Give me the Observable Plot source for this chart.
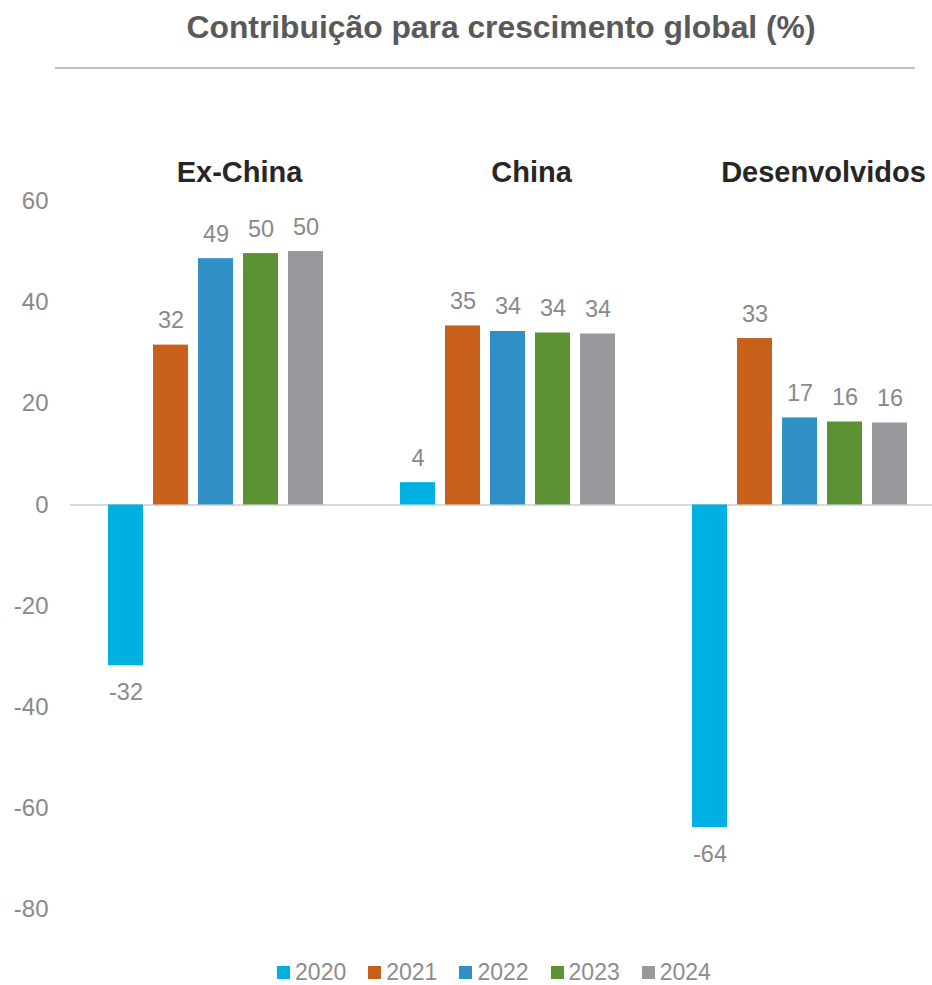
<!DOCTYPE html>
<html>
<head>
<meta charset="utf-8">
<script src="https://cdn.jsdelivr.net/npm/d3@7"></script>
<script src="https://cdn.jsdelivr.net/npm/@observablehq/plot@0.6"></script>
<style>
  html, body { margin: 0; padding: 0; background: #fff; overflow: hidden; }
  body { width: 932px; font-family: "Liberation Sans", Arial, sans-serif; }
  #title { text-align: center; font-weight: bold; font-size: 31.8px; line-height: 36px; padding-top: 9px; color: #595959; padding-left: 138px; padding-right: 68px; white-space: nowrap; }
  #rule { margin: 22px 0 31px 55px; width: 860px; height: 2px; background: #bfbfbf; }
  #legend { display: flex; justify-content: center; align-items: center; margin-top: 13px; font-size: 23px; line-height: 28px; color: #8c8c8c; margin-left: 56px; }
  .item { display: flex; align-items: center; margin: 0 11px; }
  .sw { width: 13px; height: 13px; margin-right: 5px; }
</style>
</head>
<body>
<div id="title">Contribuição para crescimento global (%)</div>
<div id="rule"></div>
<div id="chart"></div>
<div id="legend"></div>
<script>
const groups = ["Ex-China", "China", "Desenvolvidos"];
const years = ["2020", "2021", "2022", "2023", "2024"];
const colors = ["#00b0e0", "#c8601b", "#3090c6", "#5c9234", "#99989d"];
const exChina = [-31.8, 31.6, 48.7, 49.7, 50.1];
const china = [4.4, 35.4, 34.3, 34.0, 33.8];
const desenvolvidos = [-63.8, 32.9, 17.2, 16.4, 16.2];
const yTicks = [-80, -60, -40, -20, 0, 20, 40, 60];

const series = [exChina, china, desenvolvidos];
const data = [];
groups.forEach((g, gi) => years.forEach((y, yi) => data.push({group: g, year: y, value: series[gi][yi]})));

const labelFill = "#898989";
const fmt = v => String(Math.round(v));

const chart = Plot.plot({
  width: 932,
  height: 845,
  marginLeft: 70,
  marginRight: -14,
  marginTop: 101,
  marginBottom: 36,
  style: {fontFamily: "'Liberation Sans', Arial, sans-serif", background: "#fff"},
  fx: {domain: groups, padding: 0, axis: null},
  x: {domain: years, paddingInner: 0.22, paddingOuter: 0.85, axis: null},
  y: {domain: [-80, 60], axis: null},
  color: {domain: years, range: colors},
  marks: [
    Plot.axisY({ticks: yTicks, tickSize: 0, tickPadding: 22, fontSize: 24, fill: labelFill, tickFormat: d => String(d), label: null}),
    Plot.ruleY([0], {stroke: "#d9d9d9", strokeWidth: 2}),
    Plot.barY(data, {fx: "group", x: "year", y: "value", fill: "year"}),
    Plot.text(data.filter(d => d.value >= 0), {fx: "group", x: "year", y: "value", text: d => fmt(d.value), lineAnchor: "bottom", dy: -17, fontSize: 23.5, fill: labelFill}),
    Plot.text(data.filter(d => d.value < 0), {fx: "group", x: "year", y: "value", text: d => fmt(d.value), lineAnchor: "top", dy: 18, fontSize: 23.5, fill: labelFill}),
    Plot.text(groups, {fx: d => d, text: d => d, frameAnchor: "top", lineAnchor: "middle", dy: -29, dx: 23, fontSize: 29, fontWeight: "bold", fill: "#262626"})
  ]
});
document.getElementById("chart").appendChild(chart);

const legend = document.getElementById("legend");
years.forEach((y, i) => {
  const it = document.createElement("div");
  it.className = "item";
  const sw = document.createElement("div");
  sw.className = "sw";
  sw.style.background = colors[i];
  const t = document.createElement("span");
  t.textContent = y;
  it.appendChild(sw);
  it.appendChild(t);
  legend.appendChild(it);
});
</script>
</body>
</html>
